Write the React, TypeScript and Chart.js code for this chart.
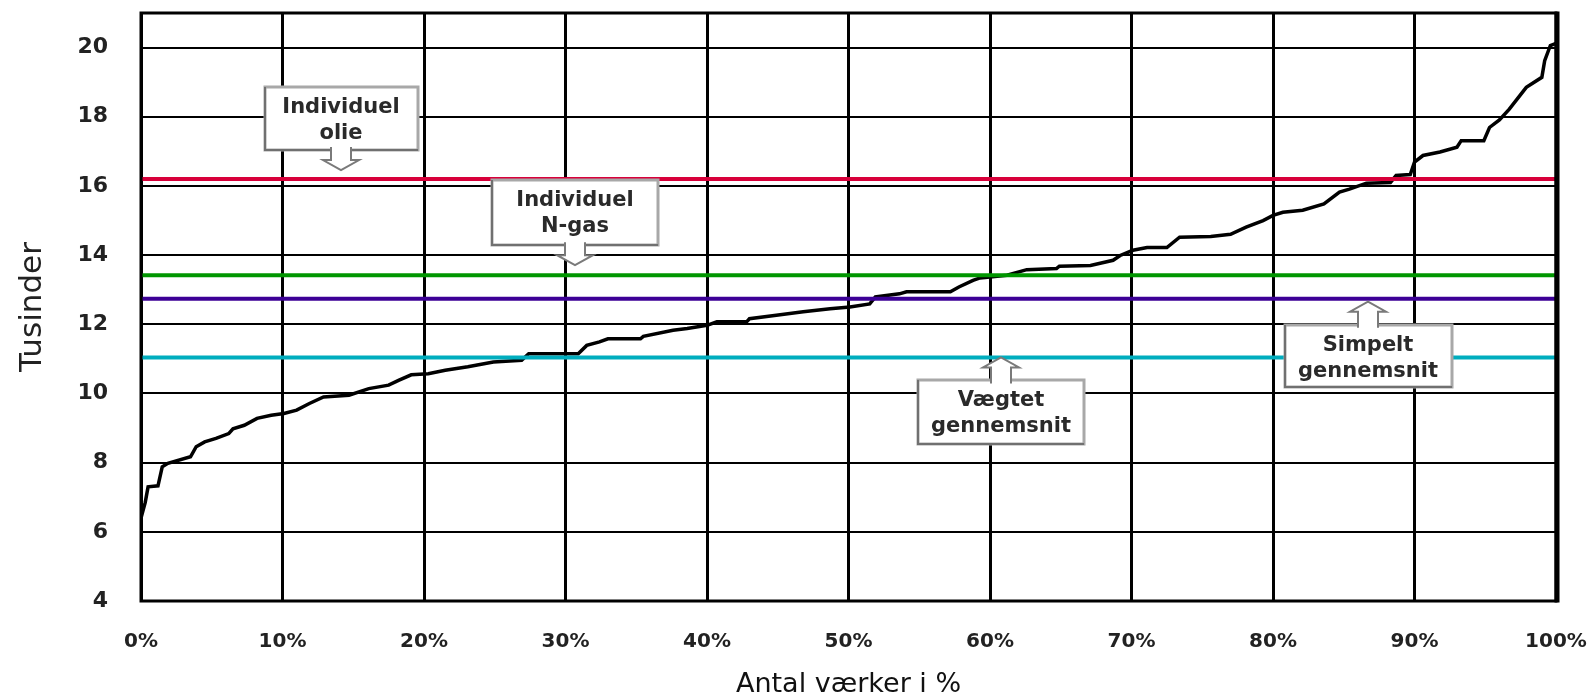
import React, { useEffect, useRef } from 'react';
import { Chart, registerables } from 'chart.js';

Chart.register(...registerables);

// ---- data ----
const xTickValues = [0, 10, 20, 30, 40, 50, 60, 70, 80, 90, 100];
const yTickValues = [4, 6, 8, 10, 12, 14, 16, 18, 20];

// share of plants (%)
const curveX = [
  0, 0.3, 0.5, 1.2, 1.5, 1.9, 3.5, 3.9, 4.5, 5.3, 6.2, 6.5, 7.3, 8.2, 9.2, 10.1, 11.0, 11.9, 12.9, 14.7,
  16.1, 17.5, 18.2, 19.1, 20.3, 21.5, 23.1, 24.9, 26.9, 27.4, 30.9, 31.5, 32.4, 33.0, 35.3, 35.5, 37.6, 38.6,
  40.0, 40.7, 42.8, 43.0, 44.9, 46.8, 48.7, 50.1, 51.5, 51.9, 53.6, 54.1, 57.2, 57.8, 58.8, 59.3, 61.2, 62.6,
  64.7, 64.9, 67.1, 68.7, 69.2, 70.1, 71.1, 72.5, 73.4, 75.6, 77.0, 78.1, 79.3, 80.0, 80.7, 82.1, 83.6, 84.7,
  85.4, 86.6, 88.3, 88.7, 89.7, 90.0, 90.6, 91.8, 93.0, 93.3, 94.9, 95.3, 96.0, 96.7, 97.9, 99.0, 99.2, 99.6, 100,
];
// cost (thousands)
const curveY = [
  6.4, 6.85, 7.3, 7.33, 7.88, 7.98, 8.17, 8.46, 8.6, 8.7, 8.84, 8.98, 9.08, 9.28, 9.37, 9.42, 9.52, 9.71, 9.9, 9.95,
  10.14, 10.24, 10.38, 10.54, 10.57, 10.67, 10.77, 10.91, 10.96, 11.15, 11.15, 11.39, 11.49, 11.58, 11.58, 11.65, 11.83, 11.88,
  11.97, 12.07, 12.07, 12.16, 12.26, 12.36, 12.45, 12.5, 12.59, 12.79, 12.88, 12.94, 12.94, 13.08, 13.27, 13.34, 13.42, 13.58,
  13.61, 13.68, 13.7, 13.85, 13.99, 14.14, 14.22, 14.22, 14.52, 14.54, 14.6, 14.81, 15.0, 15.15, 15.24, 15.3, 15.48, 15.82,
  15.91, 16.08, 16.1, 16.3, 16.33, 16.69, 16.88, 16.98, 17.12, 17.31, 17.31, 17.69, 17.91, 18.22, 18.85, 19.14, 19.62, 20.06, 20.12,
];

const levelNames = ['Individuel olie', 'Individuel N-gas', 'Simpelt gennemsnit', 'Vægtet gennemsnit'];
const levelValues = [16.2, 13.42, 12.74, 11.04];

// ---- styles ----
const levelColors = ['#d8003a', '#009600', '#3c0096', '#00adbe'];

type Callout = {
  lines: string[];
  level: number;
  x: number;
  dir: 'up' | 'down';
  boxW: number;
  boxH: number;
  gap: number;
  arrowLen: number;
};

const callouts: Callout[] = [
  { lines: ['Individuel', 'olie'], level: 0, x: 14.1, dir: 'down', boxW: 153, boxH: 63, gap: 9, arrowLen: 20 },
  { lines: ['Individuel', 'N-gas'], level: 1, x: 30.67, dir: 'down', boxW: 166, boxH: 65, gap: 10, arrowLen: 20 },
  { lines: ['Vægtet', 'gennemsnit'], level: 3, x: 60.8, dir: 'up', boxW: 166, boxH: 64, gap: 0, arrowLen: 23 },
  { lines: ['Simpelt', 'gennemsnit'], level: 2, x: 86.7, dir: 'up', boxW: 167, boxH: 62, gap: 3, arrowLen: 23 },
];

const zeroPad = (s: any) => {
  s.paddingLeft = 0;
  s.paddingRight = 0;
  s.paddingTop = 0;
  s.paddingBottom = 0;
};

const overlayPlugin = {
  id: 'overlay',
  afterDatasetsDraw(chart: any) {
    const { ctx, chartArea: a, scales } = chart;
    const xs = scales.x;
    const ys = scales.y;
    ctx.save();
    // plot frame
    ctx.strokeStyle = '#000';
    ctx.lineWidth = 3;
    ctx.strokeRect(a.left, a.top, a.right - a.left, a.bottom - a.top);
    ctx.lineWidth = 5;
    ctx.beginPath();
    ctx.moveTo(a.right + 1, a.top - 1.5);
    ctx.lineTo(a.right + 1, a.bottom + 1.5);
    ctx.stroke();

    for (const c of callouts) {
      const cx = Math.round(xs.getPixelForValue(c.x));
      const ly = ys.getPixelForValue(levelValues[c.level]);
      let tip: number, top: number, edge: number;
      if (c.dir === 'down') {
        tip = ly - c.gap;
        top = tip - c.arrowLen - c.boxH;
        edge = top + c.boxH;
      } else {
        tip = ly + c.gap;
        top = tip + c.arrowLen;
        edge = top;
      }
      const left = Math.round(cx - c.boxW / 2);
      top = Math.round(top);
      ctx.fillStyle = '#fff';
      ctx.fillRect(left, top, c.boxW, c.boxH);
      ctx.lineWidth = 3;
      ctx.strokeStyle = '#a8a8a8';
      ctx.strokeRect(left, top, c.boxW, c.boxH);
      ctx.strokeStyle = '#707070';
      ctx.lineWidth = 2;
      ctx.beginPath();
      ctx.moveTo(left, top);
      ctx.lineTo(left, top + c.boxH);
      ctx.lineTo(left + c.boxW, top + c.boxH);
      ctx.stroke();

      // block arrow
      const s = c.dir === 'down' ? 1 : -1;
      const stemHalf = 10, headHalf = 18, headLen = 10;
      const inner = edge - s * 3;
      const base = tip - s * headLen;
      ctx.beginPath();
      ctx.moveTo(cx - stemHalf, inner);
      ctx.lineTo(cx - stemHalf, base);
      ctx.lineTo(cx - headHalf, base);
      ctx.lineTo(cx, tip);
      ctx.lineTo(cx + headHalf, base);
      ctx.lineTo(cx + stemHalf, base);
      ctx.lineTo(cx + stemHalf, inner);
      ctx.fillStyle = '#fff';
      ctx.fill();
      ctx.strokeStyle = '#7a7a7a';
      ctx.lineWidth = 2;
      ctx.stroke();

      ctx.fillStyle = '#2a2a2a';
      ctx.font = 'bold 21px "DejaVu Sans"';
      ctx.textAlign = 'center';
      ctx.textBaseline = 'middle';
      c.lines.forEach((t, i) => ctx.fillText(t, cx, top + 21 + i * 26));
    }
    ctx.restore();
  },
};

export default function App() {
  const canvasRef = useRef<HTMLCanvasElement | null>(null);

  useEffect(() => {
    if (!canvasRef.current) return;
    const datasets: any[] = levelValues.map((v, i) => ({
      label: levelNames[i],
      data: [
        { x: 0, y: v },
        { x: 100, y: v },
      ],
      borderColor: levelColors[i],
      borderWidth: 4,
      pointRadius: 0,
    }));
    datasets.push({
      label: 'Omkostning',
      data: curveX.map((x, i) => ({ x, y: curveY[i] })),
      borderColor: '#000',
      borderWidth: 3.5,
      pointRadius: 0,
      tension: 0,
    });

    const chart = new Chart(canvasRef.current, {
      type: 'line',
      data: { datasets },
      options: {
        animation: false,
        responsive: true,
        maintainAspectRatio: false,
        layout: { autoPadding: false, padding: { left: 0, right: 31, top: 13, bottom: 0 } },
        plugins: { legend: { display: false }, tooltip: { enabled: false } },
        scales: {
          x: {
            type: 'linear',
            min: 0,
            max: 100,
            afterBuildTicks: (s: any) => {
              s.ticks = xTickValues.map((v) => ({ value: v }));
            },
            ticks: {
              callback: (v: any) => v + '%',
              padding: 29,
              maxRotation: 0,
              autoSkip: false,
              color: '#222',
              font: { family: 'DejaVu Sans', weight: 'bold', size: 20 },
            },
            grid: { color: '#000', lineWidth: 3, drawTicks: false },
            border: { display: false },
            title: {
              display: true,
              text: 'Antal værker i %',
              color: '#111',
              font: { family: 'DejaVu Sans', size: 27, lineHeight: 0.9 },
              padding: { top: 0, bottom: 0 },
            },
            afterFit: (s: any) => {
              s.height = 96;
              zeroPad(s);
            },
          },
          y: {
            type: 'linear',
            min: 4,
            max: 21,
            afterBuildTicks: (s: any) => {
              s.ticks = yTickValues.map((v) => ({ value: v }));
            },
            ticks: {
              padding: 33,
              color: '#222',
              font: { family: 'DejaVu Sans', weight: 'bold', size: 22 },
            },
            grid: { color: '#000', lineWidth: 2, drawTicks: false },
            border: { display: false },
            title: {
              display: true,
              text: 'Tusinder',
              color: '#222',
              font: { family: 'DejaVu Sans', size: 31, lineHeight: 1 },
              padding: { top: 17, bottom: 0 },
            },
            afterFit: (s: any) => {
              s.width = 141;
              zeroPad(s);
            },
          },
        },
      } as any,
      plugins: [overlayPlugin],
    });
    return () => chart.destroy();
  }, []);

  return (
    <div style={{ position: 'fixed', left: 0, top: 0, width: 1587, height: 697, background: '#fff' }}>
      <canvas ref={canvasRef} />
    </div>
  );
}
